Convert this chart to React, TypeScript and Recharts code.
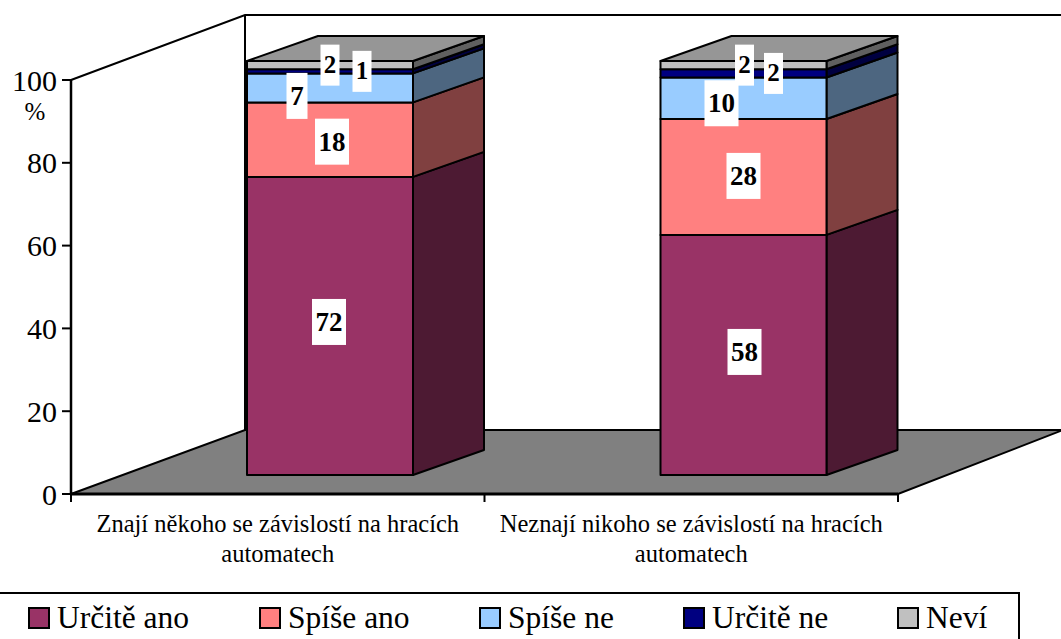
import { BarChart, Bar, XAxis, YAxis, Legend, LabelList } from 'recharts';

const categories = [
  'Znají někoho se závislostí na hracích automatech',
  'Neznají nikoho se závislostí na hracích automatech',
];
const seriesNames = ['Určitě ano', 'Spíše ano', 'Spíše ne', 'Určitě ne', 'Neví'];
const urciteAno = [72, 58];
const spiseAno = [18, 28];
const spiseNe = [7, 10];
const urciteNe = [1, 2];
const nevi = [2, 2];
const yTicks = [0, 20, 40, 60, 80, 100];

const seriesValues = [urciteAno, spiseAno, spiseNe, urciteNe, nevi];
const frontColors = ['#993366', '#ff8080', '#99ccff', '#000080', '#c0c0c0'];
const sideColors = ['#4d1a33', '#804040', '#4d6680', '#000040', '#606060'];
const topColor = '#969696';

// label nudges per series, per bar, measured against the middle of the front face
const labelNudges = [
  [[-1, -4], [1, -3]],
  [[2, 2], [0, -1]],
  [[-33, 8], [-22, 5]],
  [[32, 0], [30, 0]],
  [[0, 0], [1, 0]],
];

const data = categories.map((name, i) => {
  const row: Record<string, string | number> = { name };
  seriesNames.forEach((s, k) => {
    row[s] = seriesValues[k][i];
  });
  return row;
});

const W = 1061;
const H = 639;
const FONT = '"Liberation Serif", "Times New Roman", serif';
const LEFT = 71;
const RIGHT = 898;
const TOP = 80;
const BOTTOM = 494;
const BAND = (RIGHT - LEFT) / categories.length;
const BAR_SHIFT_X = 52;
const BAR_SHIFT_Y = -19;
const DEPTH_X = 71;
const DEPTH_Y = -25;
const legendLefts = [28, 259, 479, 683, 897];

function Box3D(props: any) {
  const { x, y, width, height, seriesIndex } = props;
  const l = x + BAR_SHIFT_X;
  const t = y + BAR_SHIFT_Y;
  const r = l + width;
  const b = t + height;
  const line = { stroke: '#000', strokeWidth: 2, strokeLinejoin: 'round' as const };
  return (
    <g>
      <polygon
        points={`${r},${t} ${r + DEPTH_X},${t + DEPTH_Y} ${r + DEPTH_X},${b + DEPTH_Y} ${r},${b}`}
        fill={sideColors[seriesIndex]}
        {...line}
      />
      {seriesIndex === seriesNames.length - 1 && (
        <polygon
          points={`${l},${t} ${l + DEPTH_X},${t + DEPTH_Y} ${r + DEPTH_X},${t + DEPTH_Y} ${r},${t}`}
          fill={topColor}
          {...line}
        />
      )}
      <rect x={l} y={t} width={width} height={height} fill={frontColors[seriesIndex]} {...line} />
    </g>
  );
}

function BoxLabel(props: any) {
  const { x, y, width, height, value, index, seriesIndex } = props;
  const [dx, dy] = labelNudges[seriesIndex][index];
  const cx = x + BAR_SHIFT_X + width / 2 + dx;
  const cy = y + BAR_SHIFT_Y + height / 2 + dy;
  const small = seriesIndex >= 3;
  const boxW = String(value).length > 1 ? 34 : small ? 19 : 21;
  const boxH = small ? 41 : 46;
  return (
    <g>
      <rect x={cx - boxW / 2} y={cy - boxH / 2} width={boxW} height={boxH} fill="#fff" />
      <text
        x={cx}
        y={cy + (small ? 8 : 9)}
        textAnchor="middle"
        fontFamily={FONT}
        fontWeight="bold"
        fontSize={small ? 25 : 27}
        fill="#000"
      >
        {value}
      </text>
    </g>
  );
}

function CategoryTick(props: any) {
  const { x, payload, index } = props;
  const left = x - BAND / 2;
  const words = String(payload.value).split(' ');
  const lastWord = words.pop();
  return (
    <g>
      <line x1={left} y1={BOTTOM} x2={left} y2={BOTTOM + 8} stroke="#000" strokeWidth={2} />
      {index === categories.length - 1 && (
        <line x1={left + BAND} y1={BOTTOM} x2={left + BAND} y2={BOTTOM + 8} stroke="#000" strokeWidth={2} />
      )}
      <text textAnchor="middle" fontFamily={FONT} fontSize={24.5} fill="#000">
        <tspan x={x} y={532}>{words.join(' ')}</tspan>
        <tspan x={x} y={562}>{lastWord}</tspan>
      </text>
    </g>
  );
}

function LegendBox({ payload }: any) {
  return (
    <div style={{ position: 'absolute', left: -2, top: 592, width: 1022, height: 60, border: '2px solid #000', boxSizing: 'border-box', background: '#fff' }}>
      {(payload || []).map((item: any, i: number) => (
        <div key={item.value}>
          <div
            style={{
              position: 'absolute',
              left: legendLefts[i],
              top: 13,
              width: 18,
              height: 18,
              background: frontColors[i],
              border: '2px solid #000',
            }}
          />
          <div
            style={{
              position: 'absolute',
              left: legendLefts[i] + 29,
              top: 6,
              fontFamily: FONT,
              fontSize: 31.5,
              lineHeight: '36px',
              color: '#000',
              whiteSpace: 'nowrap',
            }}
          >
            {item.value}
          </div>
        </div>
      ))}
    </div>
  );
}

export default function App() {
  return (
    <div style={{ position: 'absolute', left: 0, top: 0, width: W, height: H, overflow: 'hidden', background: '#fff' }}>
      <BarChart
        width={W}
        height={H}
        data={data}
        margin={{ top: TOP, right: W - RIGHT, bottom: 0, left: 0 }}
        barSize={166}
      >
        {/* back wall and floor */}
        <polygon points={`${LEFT},${BOTTOM} 245,430 ${W + 2},430 ${RIGHT},${BOTTOM}`} fill="#808080" stroke="#000" strokeWidth={2} />
        <polyline points={`${LEFT},${TOP} 245,15 ${W + 2},15`} fill="none" stroke="#000" strokeWidth={2} />
        <line x1={245} y1={15} x2={245} y2={430} stroke="#000" strokeWidth={2} />
        <text x={35} y={120} textAnchor="middle" fontFamily={FONT} fontSize={25} fill="#000">%</text>
        <XAxis
          dataKey="name"
          height={H - BOTTOM}
          axisLine={{ stroke: '#000', strokeWidth: 3 }}
          tickLine={false}
          interval={0}
          tick={<CategoryTick />}
        />
        <YAxis
          width={LEFT}
          domain={[0, 100]}
          ticks={yTicks}
          tickSize={9}
          tickMargin={5}
          axisLine={{ stroke: '#000', strokeWidth: 2.5 }}
          tickLine={{ stroke: '#000', strokeWidth: 2 }}
          tick={{ fill: '#000', fontSize: 30, fontFamily: FONT }}
        />
        <Legend
          content={<LegendBox />}
          itemSorter={null}
          wrapperStyle={{ position: 'absolute', left: 0, top: 0, width: 0, height: 0 }}
        />
        {seriesNames.map((s, k) => (
          <Bar
            key={s}
            dataKey={s}
            stackId="a"
            fill={frontColors[k]}
            isAnimationActive={false}
            shape={(p: any) => <Box3D {...p} seriesIndex={k} />}
          >
            <LabelList dataKey={s} content={(p: any) => <BoxLabel {...p} seriesIndex={k} />} />
          </Bar>
        ))}
      </BarChart>
    </div>
  );
}
